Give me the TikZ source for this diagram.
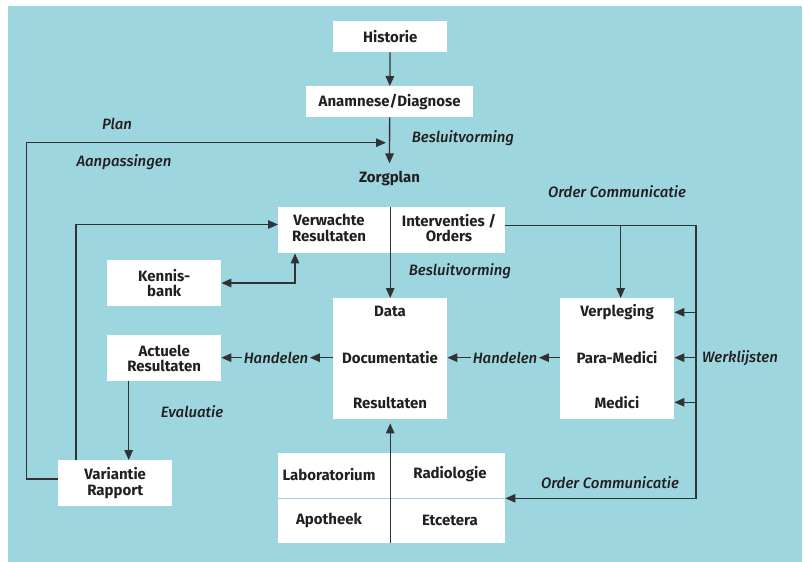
\documentclass[tikz,border=0pt]{standalone}
\usepackage{fontspec}
\setmainfont{Fira Sans}[ItalicFont={Fira Sans Medium Italic}]
\usetikzlibrary{arrows.meta}
\definecolor{bgblue}{RGB}{158,214,224}
\definecolor{ink}{RGB}{35,31,32}
\definecolor{rule}{RGB}{50,50,52}

\begin{document}
\begin{tikzpicture}[x=1pt,y=-1pt,
  box/.style={fill=white, inner sep=0pt, anchor=north west},
  lbl/.style={font=\bfseries\fontsize{15}{15.5}\selectfont, text=ink, align=center, inner sep=1pt},
  note/.style={font=\itshape\fontsize{15}{16}\selectfont, text=ink, inner sep=1.5pt},
  tip/.tip={Triangle[length=10pt,width=8.5pt]},
  wire/.style={draw=rule, line width=1.3pt},
  link/.style={wire, -tip},
  dlink/.style={wire, tip-tip},
]
\useasboundingbox (0,0) rectangle (804,562);
\fill[bgblue] (8,6) rectangle (802,562);

% white boxes
\node[box, minimum width=114pt, minimum height=31pt] (hist) at (333,21) {};
\node[box, minimum width=167pt, minimum height=31pt] (anam) at (306,86) {};
\node[box, minimum width=227pt, minimum height=46pt] (ordbox) at (278,207) {};
\node[box, minimum width=114pt, minimum height=46pt] (kennis) at (107,260) {};
\node[box, minimum width=114pt, minimum height=46pt] (act) at (107,335) {};
\node[box, minimum width=114pt, minimum height=46pt] (var) at (58,460) {};
\node[box, minimum width=114pt, minimum height=121pt] (data) at (333,298) {};
\node[box, minimum width=114pt, minimum height=121pt] (med) at (560,298) {};
\node[box, minimum width=227pt, minimum height=90pt] (lab) at (278,453) {};
\draw[bgblue, line width=1pt] (lab.west |- 0,498.3) -- (lab.east |- 0,498.3);

% box texts
\node[lbl] (histt) at (hist.center) {Historie};
\node[lbl] (anamt) at (anam.center) {Anamnese/Diagnose};
\node[lbl] (zorg) at (389.5,178) {Zorgplan};
\node[lbl] (verw) at (329,228) {Verwachte\\Resultaten};
\node[lbl] (interv) at (449,228) {Interventies /\\Orders};
\node[lbl] (kennist) at (kennis.center) {Kennis-\\bank};
\node[lbl] (actt) at (act.center) {Actuele\\Resultaten};
\node[lbl] (vart) at (var.center) {Variantie\\Rapport};
\node[lbl] (datat) at (390,311.7) {Data};
\node[lbl] (doct) at (390,357.7) {Documentatie};
\node[lbl] (rest) at (390,402.7) {Resultaten};
\node[lbl] (verp) at (617,312.3) {Verpleging};
\node[lbl] (para) at (617,357.7) {Para-Medici};
\node[lbl] (medi) at (617,402.3) {Medici};
\node[lbl] (labo) at (329,474.3) {Laboratorium};
\node[lbl] (radio) at (450,474.3) {Radiologie};
\node[lbl] (apo) at (329,520) {Apotheek};
\node[lbl] (etc) at (450,520) {Etcetera};

% italic annotations
\node[note] (plan) at (117,124) {Plan};
\node[note] (aanp) at (124,162) {Aanpassingen};
\node[note] (besl1) at (463,138) {Besluitvorming};
\node[note] (besl2) at (460,271) {Besluitvorming};
\node[note] (oc1) at (617,191.7) {Order Communicatie};
\node[note] (oc2) at (610,482.7) {Order Communicatie};
\node[note] (werk) at (740,357.7) {Werklijsten};
\node[note] (eval) at (192,411.7) {Evaluatie};
\node[note] (hand1) at (276,357.7) {Handelen};
\node[note] (hand2) at (505,357.7) {Handelen};

% routing points
\coordinate (loopA) at (26.7,479);
\coordinate (planend) at (386,142.7);
\coordinate (loopB) at (76,224.5);
\coordinate (kjoin) at (295,283);
\coordinate (evalx) at (128.7,420);
\coordinate (ocx) at (696,225.7);
\coordinate (branch) at (620.7,225.7);
\coordinate (labjoin) at (696,498.3);

% connectors
\draw[link] (hist) -- (anam);
\draw[link, shorten >=6pt] (anam) -- (zorg);
\draw[link] (var.west |- loopA) -- (loopA) |- (planend);
\draw[link] (var.north -| loopB) -- (loopB) -- (ordbox.west |- loopB);
\draw[dlink] (kennis.east |- kjoin) -- (kjoin) -- (ordbox.south -| kjoin);
\draw[link] (ordbox.north -| data.north) -- (data.north);
\draw[link] (act.south -| evalx) -- (var.north -| evalx);
\draw[link] (data.west |- hand1) -- (hand1.east);
\draw[link] (hand1.west) -- (act.east |- hand1);
\draw[link] (med.west |- hand2) -- (hand2.east);
\draw[link] (hand2.west) -- (data.east |- hand2);
\draw[link] (ordbox.east |- ocx) -- (ocx) -- (labjoin) -- (lab.east |- labjoin);
\draw[link] (branch) -- (med.north -| branch);
\draw[link] (ocx |- verp) -- (med.east |- verp);
\draw[link] (ocx |- para) -- (med.east |- para);
\draw[link] (ocx |- medi) -- (med.east |- medi);
\draw[link] (lab.south -| data.south) -- ([yshift=-4pt]data.south);
\end{tikzpicture}
\end{document}
